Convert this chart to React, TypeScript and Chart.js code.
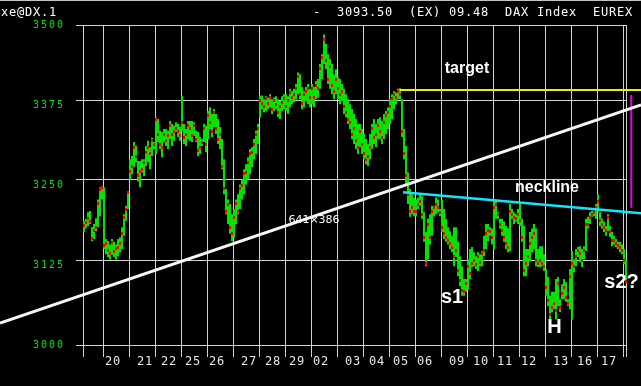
import { useEffect, useRef } from 'react';
import { Chart, registerables } from 'chart.js';

Chart.register(...registerables);

// Session labels shown under the grid (one per trading day)
const dayLabels = ['20', '21', '22', '25', '26', '27', '28', '29', '02', '03', '04', '05', '06', '09', '10', '11', '12', '13', '16', '17'];
// Bars of the session before the first labelled day, and hourly bars per day
const leadBars = 10;
const barsPerDay = 13;

// Hourly bar highs
const highs = [
  3185, 3188, 3198, 3200, 3175, 3180, 3189, 3218, 3237, 3238,
  3237, 3157, 3154, 3149, 3157, 3153, 3149, 3157, 3160, 3175, 3195, 3208, 3231,
  3281, 3286, 3308, 3302, 3278, 3278, 3281, 3281, 3302, 3310, 3300, 3315, 3308,
  3348, 3345, 3326, 3324, 3329, 3329, 3326, 3342, 3337, 3334, 3340, 3337, 3332,
  3382, 3337, 3329, 3342, 3342, 3342, 3340, 3326, 3324, 3316, 3313, 3337, 3334,
  3358, 3364, 3353, 3361, 3353, 3345, 3332, 3313, 3281, 3234, 3218, 3211, 3195,
  3203, 3218, 3226, 3241, 3249, 3265, 3273, 3284, 3297, 3300, 3313, 3326, 3337,
  3382, 3383, 3377, 3382, 3380, 3385, 3377, 3380, 3382, 3377, 3374, 3382, 3385,
  3385, 3382, 3394, 3390, 3394, 3402, 3421, 3418, 3397, 3390, 3397, 3402, 3394,
  3402, 3397, 3407, 3410, 3435, 3451, 3484, 3468, 3451, 3443, 3435, 3418, 3426,
  3413, 3410, 3402, 3394, 3385, 3377, 3369, 3361, 3353, 3345, 3337, 3337, 3329,
  3321, 3313, 3305, 3321, 3337, 3345, 3337, 3345, 3348, 3342, 3353, 3358, 3364,
  3377, 3385, 3390, 3388, 3394, 3395, 3377, 3329, 3302, 3260, 3234, 3226, 3221,
  3218, 3221, 3226, 3223, 3198, 3168, 3188, 3195, 3208, 3208, 3221, 3218, 3203,
  3218, 3203, 3188, 3175, 3169, 3162, 3175, 3175, 3153, 3131, 3116, 3097, 3097,
  3126, 3142, 3145, 3137, 3131, 3137, 3134, 3139, 3162, 3180, 3180, 3175, 3173,
  3218, 3218, 3198, 3188, 3188, 3184, 3177, 3173, 3211, 3203, 3198, 3195, 3203,
  3214, 3188, 3177, 3142, 3142, 3168, 3173, 3180, 3173, 3142, 3146, 3146, 3134,
  3112, 3100, 3072, 3078, 3078, 3097, 3100, 3067, 3089, 3097, 3092, 3067, 3112,
  3139, 3126, 3142, 3145, 3146, 3142, 3146, 3188, 3191, 3198, 3200, 3200, 3211,
  3226, 3198, 3188, 3184, 3177, 3195, 3177, 3168, 3162, 3157, 3153, 3153, 3149,
  3142, 3126,
];

// Hourly bar lows
const lows = [
  3168, 3173, 3177, 3180, 3154, 3157, 3169, 3175, 3192, 3218,
  3142, 3134, 3130, 3126, 3133, 3130, 3126, 3131, 3137, 3142, 3162, 3185, 3203,
  3249, 3257, 3268, 3276, 3246, 3237, 3260, 3254, 3270, 3276, 3265, 3286, 3297,
  3289, 3308, 3297, 3284, 3308, 3302, 3297, 3313, 3302, 3310, 3324, 3316, 3310,
  3326, 3305, 3302, 3313, 3310, 3308, 3318, 3308, 3286, 3289, 3302, 3308, 3292,
  3313, 3329, 3316, 3332, 3321, 3305, 3297, 3265, 3226, 3195, 3180, 3165, 3154,
  3160, 3180, 3195, 3203, 3218, 3226, 3241, 3249, 3257, 3268, 3281, 3289, 3305,
  3348, 3361, 3356, 3358, 3361, 3364, 3353, 3358, 3361, 3348, 3345, 3358, 3361,
  3358, 3353, 3364, 3369, 3372, 3377, 3385, 3377, 3361, 3364, 3374, 3369, 3364,
  3369, 3364, 3377, 3380, 3394, 3410, 3435, 3426, 3402, 3394, 3385, 3377, 3385,
  3377, 3369, 3374, 3353, 3348, 3337, 3329, 3313, 3305, 3297, 3289, 3300, 3289,
  3281, 3273, 3270, 3281, 3297, 3305, 3300, 3313, 3313, 3305, 3313, 3321, 3329,
  3337, 3345, 3361, 3369, 3377, 3377, 3316, 3281, 3241, 3211, 3191, 3195, 3192,
  3192, 3203, 3208, 3188, 3153, 3116, 3126, 3149, 3162, 3192, 3195, 3198, 3192,
  3168, 3157, 3153, 3149, 3142, 3137, 3116, 3130, 3101, 3086, 3072, 3072, 3078,
  3082, 3097, 3115, 3116, 3112, 3109, 3116, 3116, 3131, 3142, 3154, 3162, 3149,
  3142, 3188, 3188, 3173, 3162, 3153, 3142, 3137, 3139, 3188, 3180, 3184, 3180,
  3177, 3153, 3101, 3101, 3116, 3124, 3137, 3142, 3116, 3115, 3115, 3116, 3109,
  3072, 3057, 3037, 3048, 3052, 3037, 3057, 3048, 3067, 3067, 3063, 3057, 3052,
  3037, 3107, 3116, 3130, 3122, 3115, 3126, 3139, 3173, 3180, 3191, 3192, 3188,
  3198, 3177, 3173, 3168, 3162, 3169, 3160, 3146, 3149, 3145, 3142, 3137, 3134,
  3119, 3092,
];

// Hourly bar closes
const closes = [
  3178, 3182, 3188, 3184, 3158, 3170, 3175, 3212, 3234, 3236,
  3148, 3150, 3140, 3135, 3152, 3138, 3142, 3145, 3150, 3165, 3190, 3203, 3228,
  3262, 3270, 3300, 3285, 3255, 3262, 3265, 3275, 3292, 3300, 3290, 3310, 3305,
  3345, 3320, 3305, 3300, 3320, 3310, 3318, 3335, 3320, 3325, 3330, 3325, 3318,
  3340, 3315, 3320, 3335, 3330, 3318, 3335, 3312, 3295, 3300, 3308, 3330, 3305,
  3350, 3340, 3325, 3355, 3330, 3312, 3320, 3270, 3235, 3200, 3210, 3175, 3165,
  3190, 3212, 3200, 3235, 3240, 3258, 3260, 3275, 3290, 3292, 3305, 3320, 3330,
  3375, 3370, 3365, 3378, 3370, 3380, 3360, 3375, 3368, 3355, 3365, 3372, 3378,
  3365, 3375, 3388, 3380, 3385, 3395, 3415, 3385, 3370, 3385, 3390, 3395, 3380,
  3395, 3380, 3400, 3395, 3428, 3445, 3475, 3440, 3410, 3430, 3400, 3390, 3410,
  3395, 3385, 3390, 3365, 3355, 3345, 3340, 3320, 3330, 3310, 3300, 3325, 3305,
  3290, 3280, 3285, 3300, 3330, 3315, 3320, 3335, 3325, 3315, 3340, 3350, 3355,
  3365, 3378, 3385, 3380, 3390, 3385, 3325, 3290, 3255, 3225, 3200, 3205, 3200,
  3200, 3210, 3215, 3195, 3160, 3120, 3180, 3160, 3200, 3205, 3210, 3205, 3198,
  3175, 3165, 3160, 3155, 3150, 3145, 3130, 3140, 3110, 3095, 3080, 3078, 3090,
  3115, 3105, 3120, 3125, 3118, 3130, 3122, 3135, 3140, 3165, 3170, 3168, 3160,
  3205, 3210, 3195, 3180, 3170, 3160, 3150, 3145, 3200, 3195, 3190, 3188, 3195,
  3185, 3160, 3110, 3120, 3130, 3150, 3160, 3165, 3125, 3120, 3125, 3120, 3115,
  3085, 3065, 3045, 3055, 3060, 3050, 3090, 3055, 3075, 3085, 3070, 3060, 3100,
  3120, 3115, 3130, 3140, 3135, 3125, 3140, 3180, 3180, 3190, 3195, 3198, 3205,
  3215, 3185, 3180, 3175, 3170, 3190, 3168, 3155, 3155, 3150, 3148, 3145, 3140,
  3125, 3093.5,
];

// Price grid levels
const priceTicks = [3500, 3375, 3250, 3125, 3000];

// Quote header
const headerLeft = 'xe@DX.1';
const headerRight = '-  3093.50  (EX) 09.48  DAX Index  EUREX';
const headerRightCol = 39;

// Hand-drawn analysis lines, in (bar index, price)
const trendLine = [{ x: -42, y: 3032 }, { x: 278.5, y: 3368 }];
const targetLine = [{ x: 158, y: 3392 }, { x: 278.5, y: 3392 }];
const neckLine = [{ x: 159.5, y: 3229 }, { x: 278.5, y: 3196.6 }];
const measureLine = [{ x: 273.6, y: 3384 }, { x: 273.6, y: 3205 }];

// Annotation texts, in (bar index, price)
const notes = [
  { text: 'target', x: 191.5, y: 3428, size: 16 },
  { text: 'neckline', x: 231.5, y: 3237, size: 16 },
  { text: 's1', x: 184, y: 3069, size: 20 },
  { text: 'H', x: 235.25, y: 3026, size: 20 },
  { text: 's2?', x: 268.75, y: 3091, size: 20 },
];
const sizeNote = { text: '641×386', x: 115, y: 3186 };

const GREEN = '#00e400';
const RED = '#f00000';
const GRID = '#d2d2d2';
const MONO = '"DejaVu Sans Mono", "Liberation Mono", monospace';

// Draw a string on the terminal's fixed 8px character grid
function drawCells(ctx: CanvasRenderingContext2D, text: string, x0: number, yMid: number) {
  for (let k = 0; k < text.length; k++) {
    if (text[k] !== ' ') ctx.fillText(text[k], x0 + k * 8, yMid);
  }
}

const terminalPlugin = {
  id: 'terminal',
  beforeDraw(chart: any) {
    const { ctx, width, height } = chart;
    ctx.save();
    ctx.fillStyle = '#000';
    ctx.fillRect(0, 0, width, height);
    // window frame edge along the top
    ctx.fillStyle = '#c4c4c4';
    ctx.fillRect(0, 0, width, 1);
    ctx.restore();
  },
  beforeDatasetsDraw(chart: any) {
    const { ctx, chartArea: a, scales } = chart;
    const xs = scales.x;
    const ys = scales.y;
    ctx.save();
    ctx.strokeStyle = GRID;
    ctx.lineWidth = 1;
    ctx.beginPath();
    for (const p of priceTicks) {
      const py = Math.round(ys.getPixelForValue(p)) + 0.5;
      ctx.moveTo(a.left, py);
      ctx.lineTo(a.right, py);
    }
    const bounds = [-0.5, ...dayLabels.map((_, d) => leadBars + barsPerDay * d - 0.5), leadBars + barsPerDay * dayLabels.length - 0.5];
    for (const b of bounds) {
      const px = Math.round(xs.getPixelForValue(b)) + 0.5;
      ctx.moveTo(px, a.top);
      ctx.lineTo(px, a.bottom + 12);
    }
    ctx.moveTo(a.right - 0.5, a.top);
    ctx.lineTo(a.right - 0.5, a.bottom + 12);
    ctx.stroke();
    ctx.restore();
  },
  afterDraw(chart: any) {
    const { ctx, chartArea: a, scales } = chart;
    const xs = scales.x;
    const ys = scales.y;
    ctx.save();
    ctx.textBaseline = 'middle';
    ctx.textAlign = 'left';

    // header line
    ctx.fillStyle = '#ffffff';
    ctx.font = `12px ${MONO}`;
    drawCells(ctx, headerLeft, 1, 13);
    drawCells(ctx, headerRight, headerRightCol * 8 + 1, 13);

    // price labels, evenly spaced down the left edge
    ctx.fillStyle = GREEN;
    ctx.font = `10px ${MONO}`;
    priceTicks.forEach((p, k) => {
      const yMid = a.top + (k * (a.bottom - a.top)) / (priceTicks.length - 1) + 0.5;
      const s = String(p);
      drawCells(ctx, s, 64 - s.length * 8 + 1, yMid);
    });

    // day labels, snapped to the next character cell after each day boundary
    ctx.fillStyle = '#e6e6e6';
    ctx.font = `12px ${MONO}`;
    dayLabels.forEach((lab, d) => {
      const px = xs.getPixelForValue(leadBars + barsPerDay * d - 0.5);
      drawCells(ctx, lab, Math.ceil(px / 8) * 8 + 1, a.bottom + 17);
    });

    // annotations
    ctx.textAlign = 'center';
    ctx.fillStyle = '#ffffff';
    for (const n of notes) {
      ctx.font = `bold ${n.size}px "Liberation Sans", Arial, sans-serif`;
      ctx.fillText(n.text, xs.getPixelForValue(n.x), ys.getPixelForValue(n.y));
    }
    ctx.font = `11px "DejaVu Sans", sans-serif`;
    ctx.fillText(sizeNote.text, xs.getPixelForValue(sizeNote.x), ys.getPixelForValue(sizeNote.y));
    ctx.restore();
  },
};

export default function App() {
  const canvasRef = useRef<HTMLCanvasElement>(null);

  useEffect(() => {
    const canvas = canvasRef.current;
    if (!canvas) return;

    // small red block marking each bar's close
    const mark = document.createElement('canvas');
    mark.width = 2;
    mark.height = 3;
    const mctx = mark.getContext('2d');
    if (mctx) {
      mctx.fillStyle = RED;
      mctx.fillRect(0, 0, 2, 3);
    }

    const lineDs = (data: { x: number; y: number }[], color: string, width: number) => ({
      type: 'line' as const,
      data,
      borderColor: color,
      borderWidth: width,
      pointRadius: 0,
      fill: false,
      clip: false as const,
      order: 0,
    });

    const chart = new Chart(canvas, {
      type: 'bar',
      data: {
        datasets: [
          {
            type: 'bar',
            data: highs.map((h, i) => ({ x: i, y: [lows[i], h] })) as any,
            backgroundColor: GREEN,
            borderWidth: 0,
            barThickness: 2,
            inflateAmount: 0,
            grouped: false,
            order: 2,
          } as any,
          {
            type: 'line',
            data: closes.map((c, i) => ({ x: i, y: c })),
            showLine: false,
            pointStyle: mark,
            pointRadius: 1,
            borderWidth: 0,
            order: 1,
          } as any,
          lineDs(trendLine, '#f6f6f6', 3),
          lineDs(targetLine, '#ecec00', 2),
          lineDs(neckLine, '#10e4ff', 2.5),
          lineDs(measureLine, '#e000e0', 2),
        ],
      },
      options: {
        animation: false,
        responsive: false,
        events: [],
        layout: { padding: { left: 76, right: 14, top: 25, bottom: 41 } },
        plugins: { legend: { display: false }, tooltip: { enabled: false } },
        scales: {
          x: { type: 'linear', min: -4, max: 271.5, offset: false, display: false },
          y: { type: 'logarithmic', min: 3000, max: 3500, display: false },
        },
      },
      plugins: [terminalPlugin],
    });

    return () => chart.destroy();
  }, []);

  return (
    <div style={{ position: 'fixed', left: 0, top: 0, width: 641, height: 386, background: '#000' }}>
      <canvas ref={canvasRef} width={641} height={386} style={{ display: 'block' }} />
    </div>
  );
}
